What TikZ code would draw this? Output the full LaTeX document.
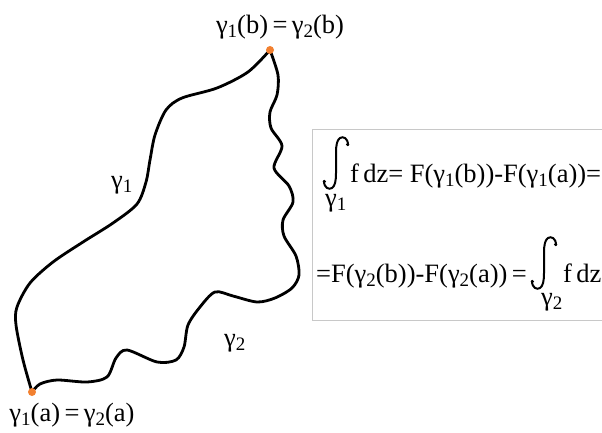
\documentclass[tikz,border=0pt]{standalone}
\usepackage{fontspec}
\setmainfont{Liberation Serif}
\newcommand{\gm}[1]{γ\raisebox{-4pt}{\fontsize{19}{20}\selectfont #1}}
\newcommand{\fdz}{f\hspace{0.16em}dz}
\definecolor{dotorange}{RGB}{242,128,48}
\definecolor{boxgray}{RGB}{200,200,200}
\tikzset{
  curve/.style={line width=2.8pt, line join=round, line cap=round},
  endpt/.style={circle, fill=dotorange, inner sep=0pt, minimum size=8pt},
  lbl/.style={font=\fontsize{26.5}{30}\selectfont, inner sep=0pt},
  intstroke/.style={line width=2pt, line cap=round},
  bigint/.pic={
    \draw[intstroke] (12,8) .. controls (12,1) and (7,-1) .. (4,1)
       .. controls (1,3) and (0,8) .. (0,16) -- (0,36)
       .. controls (0,44) and (-1,49) .. (-4,51)
       .. controls (-7,53) and (-12,51) .. (-12,44);
    \fill (11.6,7.5) circle (1.7pt);
    \fill (-11.6,44.5) circle (1.7pt);
  },
}
\begin{document}
\begin{tikzpicture}[x=1pt,y=-1pt]
\useasboundingbox (0,0) rectangle (602,433);
\clip (0,0) rectangle (602,433);
% formula box
\draw[boxgray, line width=1pt] (312,130) rectangle (640,320);
% curve gamma 1
\draw[curve] plot[smooth] coordinates {(32,392) (23,360) (16,325) (17,307) (30,283) (53,262) (83,242) (113,223) (137,204) (146,182) (150,160) (155,135) (166,110) (182,98) (217,88) (248,72) (270,50)};
% curve gamma 2
\draw[curve] plot[smooth] coordinates {(270,50) (278,75) (277,95) (270,112) (271,128) (282,146) (274,168) (289,186) (293,202) (283,220) (284,236) (296,256) (299,275) (292,288) (275,298) (257,302) (233,296) (215,292) (200,307) (188,325) (184,347) (176,360) (157,362) (127,350) (116,358) (107,377) (87,382) (57,380) (40,384) (32,392)};
\node[endpt] (B) at (270,50) {};
\node[endpt] (A) at (32,392) {};
% labels
\node[lbl, anchor=base] (lb) at (280,34) {\gm1(b)\,=\,\gm2(b)};
\node[lbl, anchor=base] (la) at (72,421) {\gm1(a)\,=\,\gm2(a)};
\node[lbl, anchor=base west] (g1) at (111,188) {\gm1};
\node[lbl, anchor=base west] (g2) at (224,346) {\gm2};
% formula line 1
\pic (i1) at (336,137) {bigint};
\node[lbl, anchor=base west] (s1) at (325,206) {\gm1};
\node[lbl, anchor=base west] (t1) at (350,182) {\fdz= F(\gm1(b))-F(\gm1(a))=};
% formula line 2
\node[lbl, anchor=base west] (t2) at (316,282) {=F(\gm2(b))-F(\gm2(a))\,=};
\pic (i2) at (544,237) {bigint};
\node[lbl, anchor=base west] (s2) at (541,305) {\gm2};
\node[lbl, anchor=base west] (t3) at (563,282) {\fdz};
\end{tikzpicture}
\end{document}
